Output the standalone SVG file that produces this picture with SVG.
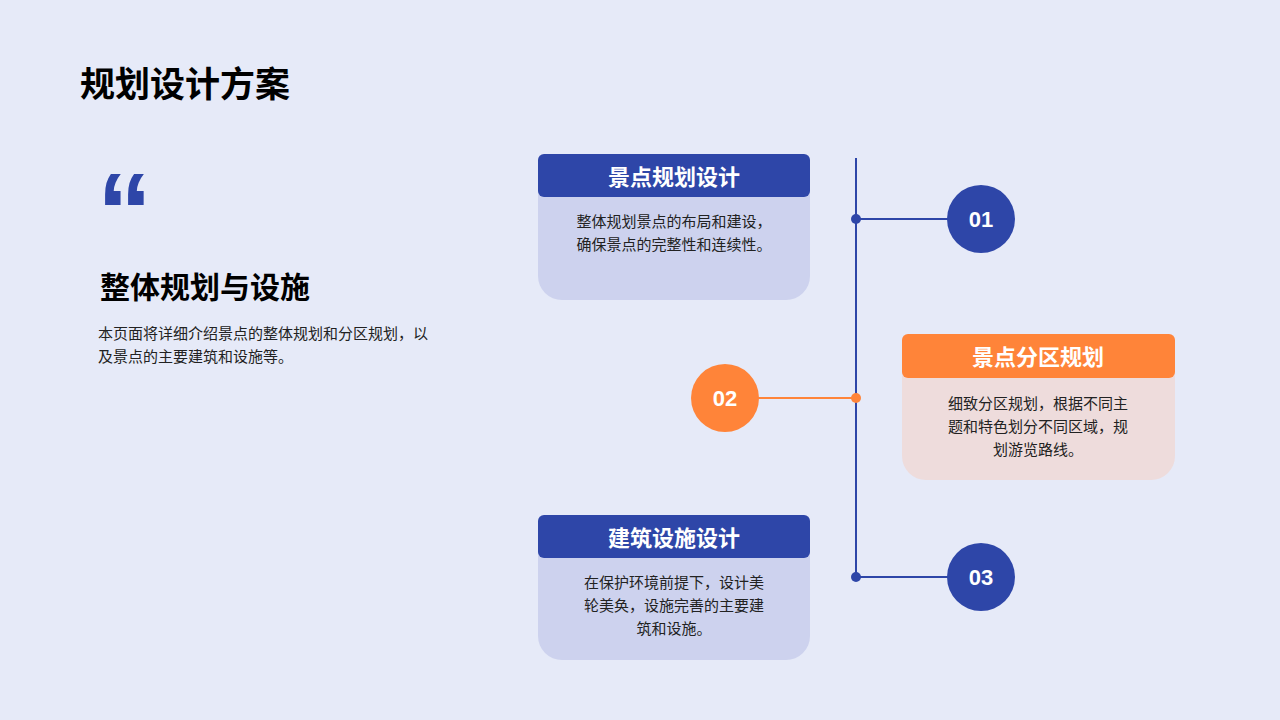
<svg xmlns="http://www.w3.org/2000/svg" width="1280" height="720" viewBox="0 0 1280 720">
<style>
text{font-family:"Noto Sans CJK SC","Liberation Sans",sans-serif}
.hd{font-size:22px;font-weight:bold;fill:#fff;text-anchor:middle}
.bd{font-size:15px;fill:#222;text-anchor:middle}
.num{font-size:22px;font-weight:bold;fill:#fff;text-anchor:middle;font-family:"Liberation Sans",sans-serif}
</style>
<rect width="1280" height="720" fill="#E6EAF8"/>
<text x="80" y="97" font-size="35" font-weight="bold" fill="#000">规划设计方案</text>
<text x="97" y="250" font-size="110" font-weight="bold" fill="#2E46A8" style="font-family:'Liberation Sans',sans-serif">“</text>
<text x="100" y="298" font-size="30" font-weight="bold" fill="#000">整体规划与设施</text>
<text x="98" y="339" font-size="15" fill="#222">本页面将详细介绍景点的整体规划和分区规划，以</text>
<text x="98" y="362" font-size="15" fill="#222">及景点的主要建筑和设施等。</text>
<g id="connectors" stroke-width="2" fill="none">
<line x1="856" y1="158" x2="856" y2="577" stroke="#2E46A8"/>
<line x1="856" y1="219" x2="950" y2="219" stroke="#2E46A8"/>
<line x1="856" y1="577" x2="950" y2="577" stroke="#2E46A8"/>
<line x1="758" y1="398" x2="856" y2="398" stroke="#FF8439"/>
<circle cx="856" cy="219" r="5" fill="#2E46A8" stroke="none"/>
<circle cx="856" cy="577" r="5" fill="#2E46A8" stroke="none"/>
<circle cx="856" cy="398" r="5" fill="#FF8439" stroke="none"/>
</g>
<g id="card1">
<path d="M538 190 H810 V276 A24 24 0 0 1 786 300 H562 A24 24 0 0 1 538 276 Z" fill="#CDD2EE"/>
<rect x="538" y="154" width="272" height="43" rx="6" fill="#2E46A8"/>
<text class="hd" x="674" y="185">景点规划设计</text>
<text class="bd" x="674" y="227">整体规划景点的布局和建设，</text>
<text class="bd" x="674" y="250">确保景点的完整性和连续性。</text>
</g>
<g id="card2">
<path d="M902 370 H1175 V456 A24 24 0 0 1 1151 480 H926 A24 24 0 0 1 902 456 Z" fill="#EEDCDC"/>
<rect x="902" y="334" width="273" height="44" rx="6" fill="#FF8439"/>
<text class="hd" x="1038" y="365">景点分区规划</text>
<text class="bd" x="1038" y="409">细致分区规划，根据不同主</text>
<text class="bd" x="1038" y="432">题和特色划分不同区域，规</text>
<text class="bd" x="1038" y="455">划游览路线。</text>
</g>
<g id="card3">
<path d="M538 550 H810 V636 A24 24 0 0 1 786 660 H562 A24 24 0 0 1 538 636 Z" fill="#CDD2EE"/>
<rect x="538" y="515" width="272" height="43" rx="6" fill="#2E46A8"/>
<text class="hd" x="674" y="546">建筑设施设计</text>
<text class="bd" x="674" y="588">在保护环境前提下，设计美</text>
<text class="bd" x="674" y="611">轮美奂，设施完善的主要建</text>
<text class="bd" x="674" y="634">筑和设施。</text>
</g>
<g id="n01"><circle cx="981" cy="219" r="34" fill="#2E46A8"/><text class="num" x="981" y="227">01</text></g>
<g id="n02"><circle cx="725" cy="398" r="34" fill="#FF8439"/><text class="num" x="725" y="406">02</text></g>
<g id="n03"><circle cx="981" cy="577" r="34" fill="#2E46A8"/><text class="num" x="981" y="585">03</text></g>
</svg>
